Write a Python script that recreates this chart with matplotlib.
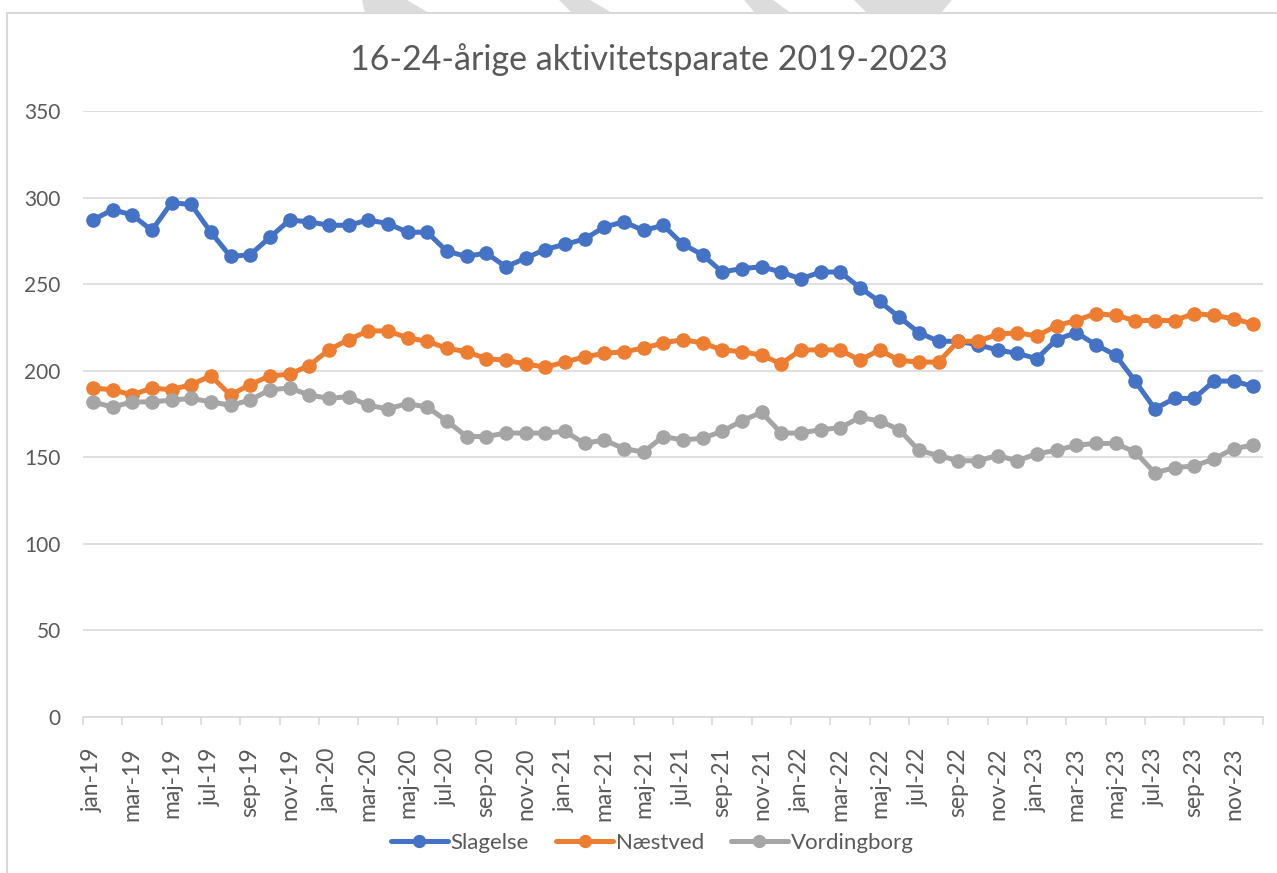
import matplotlib
matplotlib.use("Agg")
import matplotlib.pyplot as plt
from matplotlib.patches import Rectangle, Polygon

plt.rcParams['font.family'] = ['Lato', 'DejaVu Sans']

# monthly values jan-19 .. dec-23
slagelse = [287, 293, 290, 281, 297, 296, 280, 266, 267, 277, 287, 286,
            284, 284, 287, 285, 280, 280, 269, 266, 268, 260, 265, 270,
            273, 276, 283, 286, 281, 284, 273, 267, 257, 259, 260, 257,
            253, 257, 257, 248, 240, 231, 222, 217, 217, 215, 212, 210,
            207, 218, 222, 215, 209, 194, 178, 184, 184, 194, 194, 191]
naestved = [190, 189, 186, 190, 189, 192, 197, 186, 192, 197, 198, 203,
            212, 218, 223, 223, 219, 217, 213, 211, 207, 206, 204, 202,
            205, 208, 210, 211, 213, 216, 218, 216, 212, 211, 209, 204,
            212, 212, 212, 206, 212, 206, 205, 205, 217, 217, 221, 222,
            220, 226, 229, 233, 232, 229, 229, 229, 233, 232, 230, 227]
vordingborg = [182, 179, 182, 182, 183, 184, 182, 180, 183, 189, 190, 186,
               184, 185, 180, 178, 181, 179, 171, 162, 162, 164, 164, 164,
               165, 158, 160, 155, 153, 162, 160, 161, 165, 171, 176, 164,
               164, 166, 167, 173, 171, 166, 154, 151, 148, 148, 151, 148,
               152, 154, 157, 158, 158, 153, 141, 144, 145, 149, 155, 157]

tick_labels = ['jan-19', 'mar-19', 'maj-19', 'jul-19', 'sep-19', 'nov-19',
               'jan-20', 'mar-20', 'maj-20', 'jul-20', 'sep-20', 'nov-20',
               'jan-21', 'mar-21', 'maj-21', 'jul-21', 'sep-21', 'nov-21',
               'jan-22', 'mar-22', 'maj-22', 'jul-22', 'sep-22', 'nov-22',
               'jan-23', 'mar-23', 'maj-23', 'jul-23', 'sep-23', 'nov-23']

series = [('Slagelse', slagelse, '#4472C4'),
          ('Næstved', naestved, '#ED7D31'),
          ('Vordingborg', vordingborg, '#A5A5A5')]

W, H = 1277, 873
fig = plt.figure(figsize=(W / 100, H / 100), dpi=100)

# chart frame and the grey shapes peeking in above it
fig.patches.append(Rectangle((7 / W, -0.01), 1.02, 1 - 13 / H + 0.01, transform=fig.transFigure,
                             fill=False, edgecolor='#d9d9d9', linewidth=1.5))
for pts in [[(362, 0), (407, 0), (429, 13), (365, 13)],
            [(559, 0), (590, 0), (612, 13), (572, 13)],
            [(744, 0), (773, 0), (791, 13), (755, 13)],
            [(854, 0), (952, 0), (941, 13), (867, 13)]]:
    fig.patches.append(Polygon([(x / W, 1 - y / H) for x, y in pts], closed=True,
                               transform=fig.transFigure, facecolor='#dcdcdc', edgecolor='none'))

ax = fig.add_axes([83 / W, 1 - 717 / H, (1263 - 83) / W, (717 - 111) / H])

x = list(range(len(slagelse)))
for name, vals, col in series:
    ax.plot(x, vals, color=col, linewidth=3.6, marker='o', markersize=9.5,
            label=name, solid_capstyle='round', zorder=3)

ax.set_xlim(-0.5, len(x) - 0.5)
ax.set_ylim(0, 350)
ax.set_yticks(range(0, 351, 50))
ax.yaxis.grid(True, color='#d9d9d9', linewidth=1.2)
ax.set_axisbelow(True)
for s in ['top', 'right', 'left']:
    ax.spines[s].set_visible(False)
ax.spines['bottom'].set_color('#d9d9d9')
ax.spines['bottom'].set_linewidth(1.2)
ax.tick_params(axis='y', length=0, pad=16, labelsize=15, labelcolor='#595959')

# tick marks on category boundaries, labels on every second month
ax.set_xticks([i - 0.5 for i in range(0, len(x) + 1, 2)])
ax.set_xticklabels([])
ax.tick_params(axis='x', which='major', length=6, width=1.2, color='#d9d9d9')
ax.set_xticks(list(range(0, len(x), 2)), minor=True)
ax.set_xticklabels(tick_labels, minor=True, rotation=90)
ax.tick_params(axis='x', which='minor', length=0, pad=22, labelsize=16.5, labelcolor='#595959')

fig.text(649 / W, 1 - 60 / H, '16-24-årige aktivitetsparate 2019-2023', ha='center', va='center',
         fontsize=24.5, color='#595959')

fig.legend(loc='center', bbox_to_anchor=(652 / W, 1 - 843 / H), ncol=3, frameon=False,
           fontsize=16, labelcolor='#595959', handlelength=2.6, handletextpad=0.1,
           columnspacing=1.2, markerscale=0.9)

fig.savefig('out.png', dpi=100)
